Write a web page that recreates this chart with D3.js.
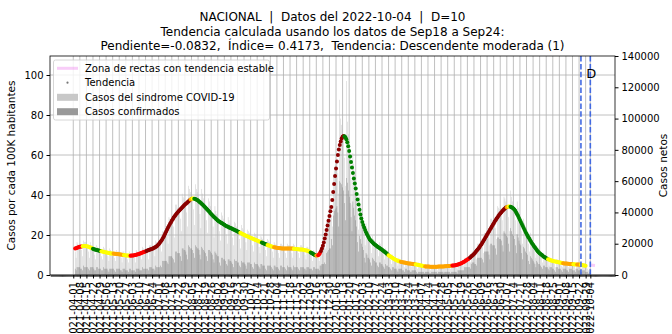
<!DOCTYPE html>
<html>
<head>
<meta charset="utf-8">
<script src="https://cdn.jsdelivr.net/npm/d3@7"></script>
<style>
body { margin: 0; background: #fff; }
text { font-family: "DejaVu Sans", sans-serif; }
</style>
</head>
<body>
<div id="graphic"></div>
<script>
// daily series start on this date
var startDate = "2021-04-03";

// trend: cases per 100K (left axis)
var trend = [
  13.2,13.4,13.6,13.8,14.0,14.1,14.2,14.3,14.4,14.5,14.5,14.5,14.4,14.3,14.2,14.0,13.8,13.6,13.4,13.1,12.9,12.7,12.6,12.5,12.4,12.3,12.1,12.0,
  11.9,11.8,11.6,11.5,11.4,11.3,11.2,11.1,11.0,10.9,10.8,10.8,10.7,10.7,10.6,10.6,10.5,10.5,10.4,10.4,10.3,10.2,10.1,10.0,10.0,9.9,9.8,9.8,9.7,9.7,9.6,
  9.6,9.7,9.7,9.8,9.9,10.0,10.1,10.2,10.4,10.5,10.7,10.9,11.1,11.3,11.5,11.6,11.8,12.0,12.2,12.4,12.6,12.7,12.9,13.1,13.3,13.6,13.8,14.1,14.4,14.9,
  15.4,16.0,16.6,17.3,18.0,18.9,19.8,20.7,21.7,22.8,23.7,24.6,25.5,26.3,27.1,27.9,28.7,29.4,30.0,30.6,31.1,31.7,32.2,32.7,33.2,33.7,34.2,34.7,35.2,35.6,36.0,
  36.5,36.9,37.4,37.8,38.1,38.2,38.2,38.1,38.0,37.8,37.5,37.2,36.8,36.4,36.0,35.5,35.1,34.6,34.1,33.6,33.1,32.6,32.1,31.6,31.0,30.5,30.0,29.5,29.0,28.6,28.1,
  27.7,27.3,26.9,26.6,26.3,26.0,25.7,25.4,25.1,24.8,24.5,24.3,24.1,23.8,23.6,23.4,23.2,22.9,22.7,22.5,22.3,22.1,21.8,21.6,21.3,21.1,20.8,20.6,20.3,20.1,
  19.9,19.6,19.4,19.2,19.0,18.8,18.6,18.4,18.2,18.0,17.8,17.6,17.4,17.2,17.0,16.8,16.6,16.4,16.2,16.0,15.8,15.6,15.4,15.2,15.0,14.8,14.7,14.5,14.3,14.2,14.0,
  13.9,13.8,13.7,13.6,13.5,13.5,13.4,13.4,13.3,13.3,13.3,13.3,13.3,13.3,13.3,13.2,13.2,13.2,13.2,13.2,13.2,13.1,13.1,13.0,13.0,12.9,12.9,12.8,12.8,12.7,
  12.7,12.6,12.5,12.4,12.3,12.2,12.0,11.8,11.6,11.3,11.0,10.7,10.4,10.1,9.9,9.7,9.7,9.9,10.4,11.1,12.0,13.2,14.6,16.3,18.2,20.3,22.5,24.8,27.1,29.5,31.9,
  34.0,37.5,41.5,45.5,49.5,53.3,56.8,60.0,62.8,65.0,66.8,68.2,69.1,69.5,69.4,68.9,67.9,66.4,64.4,62.0,59.3,56.5,53.8,51.0,48.3,45.8,43.2,40.5,37.8,35.2,32.6,
  30.3,28.2,26.5,25.0,23.7,22.5,21.4,20.4,19.5,18.6,17.8,17.2,16.7,16.2,15.8,15.4,15.0,14.6,14.3,13.9,13.6,13.3,13.0,12.6,12.3,11.9,11.5,11.1,
  10.7,10.3,9.9,9.5,9.2,8.9,8.6,8.3,8.0,7.8,7.5,7.3,7.1,6.9,6.7,6.6,6.5,6.4,6.3,6.2,6.1,6.0,5.9,5.8,5.8,5.7,5.6,5.6,5.5,5.4,5.4,
  5.3,5.2,5.1,5.0,4.9,4.8,4.7,4.6,4.5,4.4,4.3,4.3,4.2,4.2,4.2,4.1,4.1,4.1,4.1,4.1,4.1,4.1,4.1,4.1,4.2,4.2,4.2,4.2,4.3,4.3,
  4.3,4.4,4.4,4.4,4.5,4.5,4.5,4.6,4.6,4.7,4.7,4.8,4.9,5.0,5.1,5.3,5.4,5.6,5.8,6.0,6.2,6.5,6.8,7.1,7.4,7.7,8.0,8.4,8.8,9.2,9.6,
  10.0,10.5,11.0,11.6,12.2,12.8,13.4,14.0,14.7,15.4,16.2,17.0,17.8,18.6,19.4,20.2,21.0,21.8,22.6,23.4,24.2,25.0,25.8,26.6,27.4,28.1,28.8,29.5,30.1,30.7,
  31.3,31.9,32.4,32.9,33.3,33.7,33.9,34.1,34.2,34.2,34.1,33.9,33.6,33.2,32.7,32.1,31.3,30.4,29.5,28.5,27.5,26.5,25.5,24.5,23.5,22.5,21.5,20.6,19.7,18.9,18.1,
  17.3,16.5,15.8,15.1,14.4,13.7,13.1,12.5,11.9,11.4,10.9,10.5,10.1,9.7,9.3,9.0,8.7,8.4,8.1,7.9,7.7,7.5,7.3,7.2,7.0,6.9,6.8,6.7,6.6,6.5,6.4,
  6.3,6.2,6.1,6.0,5.9,5.8,5.8,5.7,5.7,5.6,5.6,5.5,5.5,5.5,5.4,5.4,5.4,5.3,5.3,5.3,5.2,5.2,5.1,5.1,5.0,4.9,4.8,4.7,4.6
];

// trend category changes: [first day, colour]
var trendColors = [
  ["2021-04-03","red"],["2021-04-11","yellow"],["2021-04-22","green"],["2021-05-01","yellow"],
  ["2021-05-14","orange"],["2021-05-25","yellow"],["2021-06-01","red"],["2021-06-18","darkred"],
  ["2021-08-04","orange"],["2021-08-06","yellow"],["2021-08-08","green"],["2021-09-26","yellow"],
  ["2021-10-19","green"],["2021-10-25","yellow"],["2021-11-01","orange"],["2021-11-22","yellow"],
  ["2021-12-10","green"],["2021-12-16","orange"],["2021-12-18","red"],["2021-12-21","darkred"],
  ["2022-01-15","green"],["2022-03-03","yellow"],["2022-03-16","orange"],["2022-04-01","yellow"],
  ["2022-04-11","orange"],["2022-05-10","red"],["2022-05-29","darkred"],["2022-07-07","orange"],
  ["2022-07-09","yellow"],["2022-07-11","green"],["2022-08-20","yellow"],["2022-09-05","orange"],
  ["2022-09-16","yellow"],["2022-09-20","orange"],["2022-09-24","yellow"]
];

// daily cases, thousands (right axis)
var syndrome = [
  15,11,21,20,19,19,17, 16,12,22,21,21,19,18, 15,11,21,19,19,18,17, 13,10,19,18,17,17,16,
  12,10,18,17,16,15,15, 12,9,17,16,15,14,14, 11,9,16,15,15,14,13, 11,8,15,15,14,13,13,
  10,8,15,14,13,13,12, 11,8,16,15,14,14,13, 12,10,18,17,16,15,15, 14,10,19,19,18,17,16,
  16,12,22,21,20,19,18, 19,15,28,28,27,27,26, 25,20,37,36,36,35,34, 31,24,45,45,43,42,41,
  36,28,52,50,49,47,45, 40,31,57,55,53,50,48, 42,32,58,55,53,50,48, 39,30,55,52,49,46,43,
  35,27,49,47,44,42,39, 31,24,44,41,39,37,35, 28,22,40,38,36,34,32, 26,20,37,35,33,32,30,
  24,19,34,33,31,30,28, 23,17,32,30,29,27,26, 21,16,29,28,27,25,24, 19,15,27,26,25,24,22,
  18,14,25,24,23,22,20, 16,12,23,22,21,20,19, 15,11,21,20,19,18,17, 14,11,20,20,19,18,17,
  14,11,20,19,19,18,17, 14,11,20,19,18,18,17, 14,11,19,19,18,17,16, 13,10,18,18,17,16,15,
  12,9,16,15,14,13,12, 11,9,17,18,19,20,21, 20,17,34,36,38,40,41, 37,31,64,67,70,72,73,
  65,52,112,100,96,93,89, 75,57,124,98,90,83,76, 61,45,78,71,64,58,52, 41,29,50,45,40,36,32,
  26,19,33,30,27,25,23, 19,14,25,23,22,20,19, 16,12,21,20,18,17,16, 13,10,17,16,15,13,12,
  10,7,13,12,11,10,10, 8,6,11,10,9,9,8, 7,5,9,9,8,8,8, 6,5,8,8,8,7,7,
  5,4,8,7,7,7,6, 5,4,7,6,6,6,5, 4,3,6,6,6,5,5, 5,3,6,6,6,6,5,
  5,4,7,6,6,6,6, 5,4,7,7,7,6,6, 6,4,8,8,8,8,8, 7,6,11,11,10,10,10,
  10,8,14,15,15,15,14, 13,10,20,20,20,20,20, 18,14,27,27,27,27,27, 24,19,36,36,35,35,34,
  30,23,44,43,42,41,40, 35,27,50,49,47,45,44, 37,28,54,50,47,45,42, 35,26,47,43,40,37,34,
  28,20,36,33,30,28,25, 20,15,27,24,22,20,18, 15,11,19,17,16,15,13, 11,8,14,13,12,11,10,
  9,6,11,11,10,9,9, 7,5,10,10,9,9,8, 6,5,9,8,8,8,7, 6,5,8,8,8,7,7,
  6,4,8,8,7,7,7, 5,4,7,6,6,5,5, 4,3,4
];

var confirmed = [
  4,3,5,5,5,5,4, 4,3,6,5,5,5,5, 4,3,5,5,5,5,4, 3,3,5,5,4,4,4,
  3,3,5,4,4,4,4, 3,2,4,4,4,4,4, 3,2,4,4,4,4,3, 3,2,4,4,4,3,3,
  3,2,4,4,3,3,3, 3,2,4,4,4,4,3, 3,3,5,4,4,4,4, 4,3,5,5,5,4,4,
  4,3,6,5,5,5,5, 6,5,9,9,9,9,9, 8,7,12,12,12,12,11, 10,8,15,15,14,14,14,
  12,9,17,17,16,16,15, 13,10,19,18,17,17,16, 14,11,19,18,17,17,16, 13,10,18,17,16,15,14,
  12,9,16,16,15,14,13, 10,8,15,14,13,12,12, 8,6,11,11,10,10,9, 7,6,10,10,9,9,8,
  7,5,10,9,9,8,8, 6,5,9,8,8,8,7, 6,4,8,8,8,7,7, 5,4,8,7,7,7,6,
  5,4,7,7,6,6,6, 4,3,6,6,6,6,5, 4,3,6,6,5,5,5, 4,3,6,6,5,5,5,
  4,3,6,5,5,5,5, 4,3,6,5,5,5,5, 4,3,5,5,5,5,4, 4,3,5,5,5,4,4,
  4,3,5,5,4,4,4, 4,3,6,6,7,7,7, 8,7,14,15,16,17,17, 23,19,38,41,42,43,44,
  40,31,60,59,58,56,54, 46,35,62,59,54,50,46, 37,28,47,43,38,35,31, 21,15,25,23,20,18,16,
  11,8,14,13,11,11,10, 8,6,11,10,9,8,8, 6,5,8,8,7,7,6, 5,4,7,6,6,5,5,
  4,3,5,5,4,4,4, 3,2,4,4,4,4,3, 3,2,4,4,3,3,3, 2,2,3,3,3,3,3,
  2,1,2,2,2,2,2, 2,1,2,2,2,2,2, 1,1,2,2,2,2,2, 2,1,2,2,2,2,2,
  2,1,2,2,2,2,2, 2,1,2,2,2,2,2, 2,1,3,3,3,3,3, 3,3,5,5,5,5,5,
  5,4,7,8,8,8,7, 7,6,11,11,11,11,11, 10,8,15,15,15,15,15, 13,10,20,20,19,19,19,
  17,13,24,24,23,23,22, 19,15,28,27,26,25,24, 20,15,30,28,26,25,23, 19,14,26,24,22,20,19,
  14,10,18,17,15,14,13, 9,7,12,11,10,9,8, 7,5,9,8,7,7,6, 5,4,6,6,5,5,5,
  4,3,5,5,5,4,4, 3,2,5,5,4,4,4, 3,2,4,4,4,4,3, 3,2,4,4,4,3,3,
  3,2,4,4,3,3,3, 2,2,3,3,3,2,2, 2,1,2
];

var extraTick = "2022-10-04";
var trendWindowEnd = "2022-09-24";
var dataDate = "2022-10-04";
var stableZone = [["2022-10-04", 5.0], ["2022-10-09", 4.8]];

var yTicksLeft = [0, 20, 40, 60, 80, 100];
var yTicksRight = [0, 20, 40, 60, 80, 100, 120, 140];

var colorMap = {darkred: "#8b0000", red: "#ff0000", orange: "#ffa500", yellow: "#ffff00", green: "#008000"};

var W = 672, H = 334;
var mLeft = 50, mRight = 615, mTop = 56, mBottom = 275;
var parse = d3.utcParse("%Y-%m-%d");
var start = parse(startDate);

var x = d3.scaleUtc()
  .domain([new Date(Date.UTC(2021, 2, 7, 5)), new Date(Date.UTC(2022, 9, 30, 7))])
  .range([mLeft, mRight]);
var yL = d3.scaleLinear().domain([0, 109.5]).range([mBottom, mTop]);
var yR = d3.scaleLinear().domain([0, 140]).range([mBottom, mTop]);
var dayW = x(d3.utcDay.offset(start, 1)) - x(start);

var svg = d3.select("#graphic").append("svg")
  .attr("width", W).attr("height", H);

var tickDates = d3.utcDay.range(parse("2021-04-01"), parse("2022-09-30"), 7).concat([parse(extraTick)]);

// grid
var grid = svg.append("g");
grid.selectAll("line.h").data(yTicksLeft).enter().append("line")
  .attr("x1", mLeft).attr("x2", mRight)
  .attr("y1", function(d){ return yL(d); }).attr("y2", function(d){ return yL(d); })
  .attr("stroke", "#b0b0b0").attr("stroke-width", 0.8);
grid.selectAll("line.v").data(tickDates).enter().append("line")
  .attr("x1", function(d){ return x(d); }).attr("x2", function(d){ return x(d); })
  .attr("y1", mTop).attr("y2", mBottom)
  .attr("stroke", "#b0b0b0").attr("stroke-width", 0.8);

// bars
var barW = dayW * 0.42;
svg.append("g").selectAll("rect").data(syndrome).enter().append("rect")
  .attr("x", function(d, i){ return x(d3.utcDay.offset(start, i)) - barW / 2; })
  .attr("width", barW)
  .attr("y", function(d){ return yR(d); })
  .attr("height", function(d){ return mBottom - yR(d); })
  .attr("fill", "#bcbcbc");
svg.append("g").selectAll("rect").data(confirmed).enter().append("rect")
  .attr("x", function(d, i){ return x(d3.utcDay.offset(start, i)) - barW / 2; })
  .attr("width", barW)
  .attr("y", function(d){ return yR(d); })
  .attr("height", function(d){ return mBottom - yR(d); })
  .attr("fill", "#787878");

// trend colours per day
var changes = trendColors.map(function(c){ return [parse(c[0]), c[1]]; });
function colorFor(date){
  var c = changes[0][1];
  changes.forEach(function(ch){ if (ch[0] <= date) c = ch[1]; });
  return colorMap[c];
}

// stable zone
svg.append("line")
  .attr("x1", x(parse(stableZone[0][0]))).attr("x2", x(parse(stableZone[1][0])))
  .attr("y1", yL(stableZone[0][1])).attr("y2", yL(stableZone[1][1]))
  .attr("stroke", "violet").attr("stroke-opacity", 0.4).attr("stroke-width", 3);

svg.append("g").selectAll("circle").data(trend).enter().append("circle")
  .attr("cx", function(d, i){ return x(d3.utcDay.offset(start, i)); })
  .attr("cy", function(d){ return yL(d); })
  .attr("r", 2)
  .attr("fill", function(d, i){ return colorFor(d3.utcDay.offset(start, i)); });

// vertical markers
[trendWindowEnd, dataDate].forEach(function(s){
  svg.append("line")
    .attr("x1", x(parse(s))).attr("x2", x(parse(s)))
    .attr("y1", mTop).attr("y2", mBottom)
    .attr("stroke", "#4169e1").attr("stroke-width", 1.6)
    .attr("stroke-dasharray", "5.5,2.4");
});
svg.append("text").attr("x", x(parse(dataDate)) - 4).attr("y", 78)
  .attr("font-size", 13).text("D");

// axes
var xAxis = svg.append("g").attr("transform", "translate(0," + mBottom + ")")
  .call(d3.axisBottom(x).tickValues(tickDates).tickFormat(d3.utcFormat("%Y-%m-%d")).tickSize(3.5).tickSizeOuter(0));
xAxis.select(".domain").remove();
xAxis.selectAll("text")
  .attr("transform", "rotate(-90)")
  .attr("text-anchor", "end")
  .attr("x", -7).attr("y", 0).attr("dy", "0.35em")
  .attr("font-size", 10).attr("font-family", "DejaVu Sans");

// minor day ticks
svg.append("g").attr("transform", "translate(0," + mBottom + ")")
  .call(d3.axisBottom(x).ticks(d3.utcDay.every(1)).tickFormat("").tickSize(2).tickSizeOuter(0))
  .call(function(g){ g.select(".domain").remove(); g.selectAll("line").attr("stroke-width", 0.6); });

var yAxisL = svg.append("g").attr("transform", "translate(" + mLeft + ",0)")
  .call(d3.axisLeft(yL).tickValues(yTicksLeft).tickSize(3.5).tickSizeOuter(0));
yAxisL.select(".domain").remove();
yAxisL.selectAll("text").attr("font-size", 10).attr("font-family", "DejaVu Sans");

var yAxisR = svg.append("g").attr("transform", "translate(" + mRight + ",0)")
  .call(d3.axisRight(yR).tickValues(yTicksRight).tickFormat(function(d){ return d * 1000; }).tickSize(3.5).tickSizeOuter(0));
yAxisR.select(".domain").remove();
yAxisR.selectAll("text").attr("font-size", 10).attr("font-family", "DejaVu Sans");

svg.append("rect").attr("x", mLeft).attr("y", mTop)
  .attr("width", mRight - mLeft).attr("height", mBottom - mTop)
  .attr("fill", "none").attr("stroke", "#000").attr("stroke-width", 0.8);

svg.append("text").attr("transform", "translate(15," + ((mTop + mBottom) / 2) + ") rotate(-90)")
  .attr("text-anchor", "middle").attr("font-size", 10.5)
  .text("Casos por cada 100K habitantes");
svg.append("text").attr("transform", "translate(667," + ((mTop + mBottom) / 2) + ") rotate(-90)")
  .attr("text-anchor", "middle").attr("font-size", 10.5)
  .text("Casos netos");

// title
var titleLines = [
  "NACIONAL  |  Datos del 2022-10-04  |  D=10",
  "Tendencia calculada usando los datos de Sep18 a Sep24:",
  "Pendiente=-0.0832,  \u00cdndice= 0.4173,  Tendencia: Descendente moderada (1)"
];
svg.append("g").selectAll("text").data(titleLines).enter().append("text")
  .attr("x", (mLeft + mRight) / 2)
  .attr("y", function(d, i){ return 21 + i * 14.5; })
  .attr("text-anchor", "middle").attr("font-size", 12)
  .attr("xml:space", "preserve").style("white-space", "pre")
  .text(function(d){ return d; });

// legend
var legend = svg.append("g").attr("class", "legend");
legend.append("rect").attr("x", 53.5).attr("y", 60).attr("width", 216).attr("height", 60)
  .attr("rx", 2).attr("fill", "#fff").attr("fill-opacity", 0.8)
  .attr("stroke", "#cccccc").attr("stroke-width", 0.8);
var rows = [68.3, 82.7, 97.3, 111.7];
legend.append("line").attr("x1", 57).attr("x2", 78).attr("y1", rows[0]).attr("y2", rows[0])
  .attr("stroke", "violet").attr("stroke-opacity", 0.4).attr("stroke-width", 3);
legend.append("circle").attr("cx", 67.5).attr("cy", rows[1]).attr("r", 1.1).attr("fill", "#777");
legend.append("rect").attr("x", 57).attr("y", rows[2] - 3.5).attr("width", 21).attr("height", 7).attr("fill", "#c8c8c8");
legend.append("rect").attr("x", 57).attr("y", rows[3] - 3.5).attr("width", 21).attr("height", 7).attr("fill", "#999999");
var legendLabels = ["Zona de rectas con tendencia estable", "Tendencia", "Casos del sindrome COVID-19", "Casos confirmados"];
legend.selectAll("text").data(legendLabels).enter().append("text")
  .attr("x", 85).attr("y", function(d, i){ return rows[i]; }).attr("dy", "0.35em")
  .attr("font-size", 10).text(function(d){ return d; });
</script>
</body>
</html>
